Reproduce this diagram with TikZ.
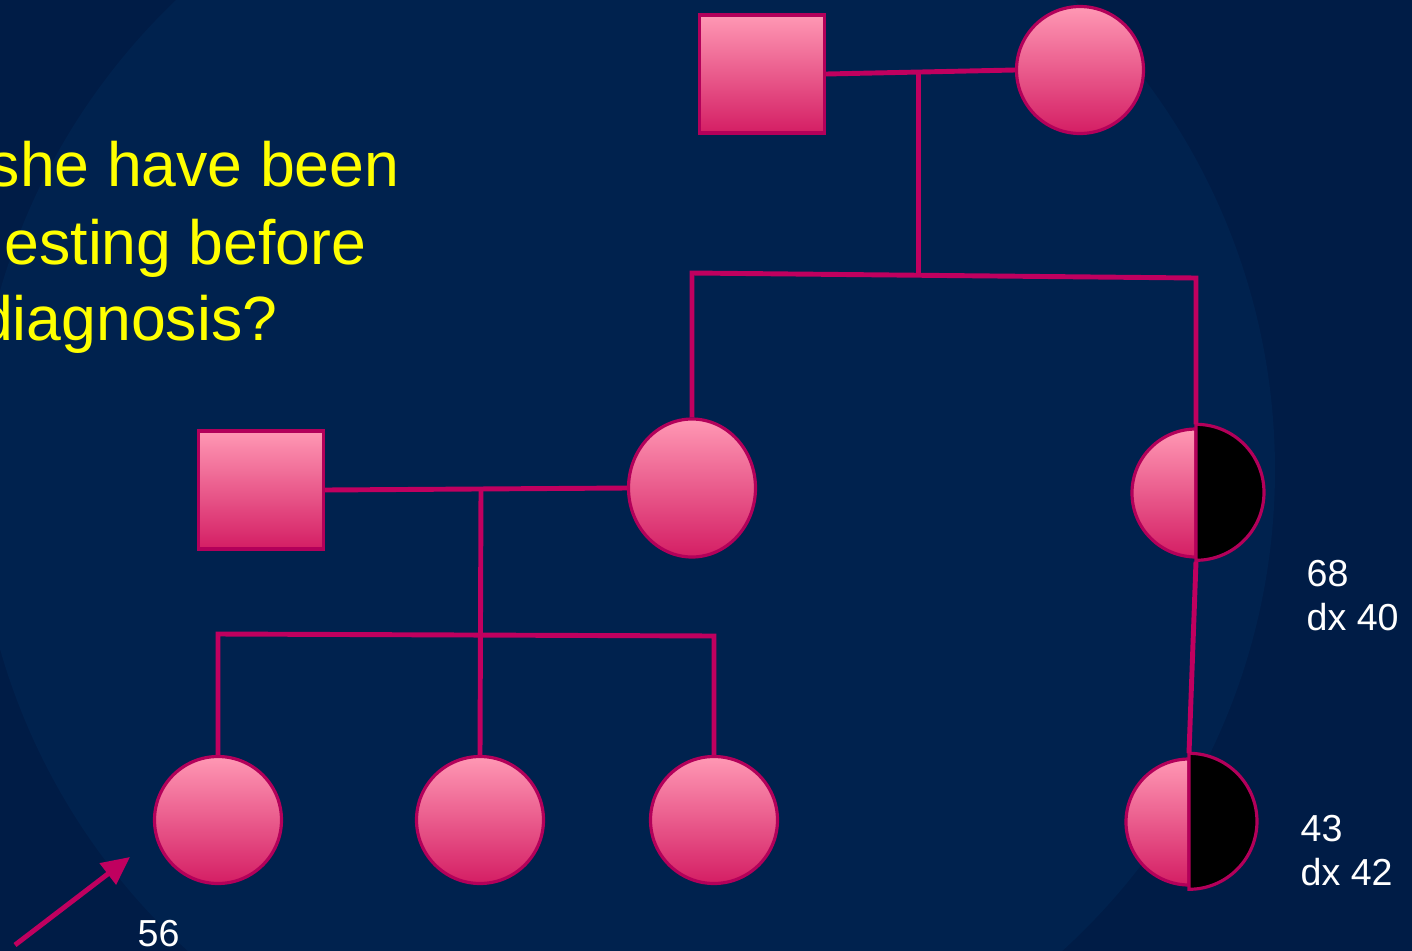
\documentclass[tikz,border=0pt]{standalone}
\usepackage{fontspec}
\setmainfont{Liberation Sans}
\usetikzlibrary{arrows.meta,positioning,calc,shapes.geometric}
\definecolor{navy}{HTML}{001C46}
\definecolor{navylight}{HTML}{00224E}
\definecolor{ped}{HTML}{C0005F}
\definecolor{pedrim}{HTML}{B3005A}
\definecolor{pinktop}{HTML}{FF98B4}
\definecolor{pinkbot}{HTML}{D41E64}
\definecolor{quest}{HTML}{FFFF00}

\tikzset{
  pedline/.style={ped,line width=1.4pt},
  person/.style={draw=pedrim,line width=0.9pt,inner sep=0pt,
    top color=pinktop,bottom color=pinkbot},
  male/.style={person,rectangle,minimum width=12.5mm,minimum height=11.8mm},
  female/.style={person,circle,minimum size=12.7mm},
  carrier/.style={circle,inner sep=0pt,minimum size=13.6mm},
  agelabel/.style={white,font=\fontsize{10.7}{12.3}\selectfont,align=left,inner sep=0pt},
  question/.style={quest,font=\fontsize{17.8}{22}\selectfont,inner sep=0pt}
}

\begin{document}
\begin{tikzpicture}[x=0.1mm,y=-0.1mm]
  \useasboundingbox (0,0) rectangle (1412,951);
  \clip (0,0) rectangle (1412,951);
  \fill[navy] (0,0) rectangle (1412,951);
  \fill[navylight] (625,470) circle[radius=65mm];

  % question text, cut at the left edge
  \node[question,anchor=base east] (q1) at (400,186) {she have been};
  \node[question,anchor=base east] (q2) at (367,264) {esting before};
  \node[question,anchor=base east] (q3) at (278,340) {diagnosis?};

  % grandparents
  \node[male] (gpa) at (762,74) {};
  \node[female] (gma) at (1080,70) {};
  \coordinate (gmar) at ($(gpa.east)!0.49!(gma.west)$);
  \coordinate (gsibL) at (687,273);
  \coordinate (gsibR) at (1196,278);

  % second generation
  \node[person,ellipse,minimum width=12.7mm,minimum height=13.8mm] (mom) at (692,488) {};
  \node[male] (dad) at (261,490) {};
  \node[carrier] (aunt) at (1196,493) {};
  \coordinate (mmar) at (481,490);
  \coordinate (sibL) at (219,634);
  \coordinate (sibR) at (714,636);

  % third generation
  \node[female] (d1) at (218,820) {};
  \node[female] (d2) at (480,820) {};
  \node[female] (d3) at (714,820) {};
  \node[carrier] (cousin) at (1189,822) {};

  % affected halves
  \shade[top color=pinktop,bottom color=pinkbot,draw=pedrim,line width=0.9pt]
    ($(aunt.center)+(0,-64)$) arc[start angle=90,end angle=270,radius=6.4mm] -- cycle;
  \filldraw[fill=black,draw=pedrim,line width=0.9pt]
    (aunt.north) arc[start angle=90,end angle=-90,radius=6.8mm] -- cycle;
  \shade[top color=pinktop,bottom color=pinkbot,draw=pedrim,line width=0.9pt]
    ($(cousin.center)+(0,-63)$) arc[start angle=90,end angle=270,radius=6.3mm] -- cycle;
  \filldraw[fill=black,draw=pedrim,line width=0.9pt]
    (cousin.north) arc[start angle=90,end angle=-90,radius=6.8mm] -- cycle;

  % connectors
  \draw[pedline] (gpa.east) -- (gma.west);
  \draw[pedline] (gmar) -- (gmar |- gsibL);
  \draw[pedline] (mom.north) -- (mom.north |- gsibL) -- (gsibR) -- (aunt.north);
  \draw[pedline] (dad.east) -- (mom.west);
  \draw[pedline] (mmar) -- (d2.north);
  \draw[pedline] (d1.north) -- (d1.north |- sibL) -- (sibR) -- (d3.north);
  \draw[pedline] (aunt.south) -- (cousin.north);

  % proband arrow
  \coordinate (arrtail) at (15,945);
  \coordinate (arrtip) at (130,857);
  \draw[pedline,-{Triangle[length=2.8mm,width=2.6mm]}] (arrtail) -- (arrtip);

  % ages
  \node[agelabel,anchor=north west] (auntage) at (1306,560) {68\\dx 40};
  \node[agelabel,anchor=north west] (cousinage) at (1300,815) {43\\dx 42};
  \node[agelabel,anchor=north west] (probage) at (137,920) {56};
\end{tikzpicture}
\end{document}
